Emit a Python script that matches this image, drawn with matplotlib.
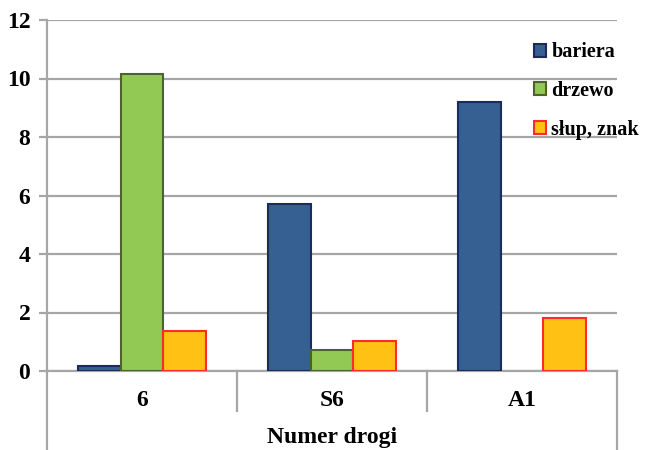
import matplotlib.pyplot as plt
import numpy as np

roads = ["6", "S6", "A1"]
series = ["bariera", "drzewo", "słup, znak"]
bariera = [0.17, 5.72, 9.2]
drzewo = [10.15, 0.72, 0.0]
slup_znak = [1.37, 1.03, 1.81]

faces = ["#365f92", "#92c955", "#ffc114"]
edges = ["#1f2a5c", "#4f6228", "#ff2b2b"]
grid_c = "#a6a6a6"

plt.rcParams["font.family"] = "Liberation Serif"
plt.rcParams["font.weight"] = "bold"

fig = plt.figure(figsize=(6.47, 4.5), dpi=100)
ax = fig.add_axes([47 / 647, 79 / 450, 570 / 647, 351 / 450])

x = np.arange(len(roads))
w = 0.226
for i, vals in enumerate([bariera, drzewo, slup_znak]):
    vals = np.array(vals)
    keep = vals > 0
    ax.bar(x[keep] + (i - 1) * w, vals[keep], w, color=faces[i],
           edgecolor=edges[i], linewidth=1.5, label=series[i], zorder=3)

ax.set_xlim(-0.5, 2.5)
ax.set_ylim(0, 12)
ax.set_yticks(range(0, 13, 2))
ax.yaxis.grid(True, color=grid_c, linewidth=1.6, zorder=0)
ax.tick_params(axis="y", length=6, width=1.6, color=grid_c, labelsize=17, pad=6)
ax.tick_params(axis="x", length=0)
ax.set_xticks([])
for s in ["top", "right", "bottom"]:
    ax.spines[s].set_visible(False)
ax.spines["left"].set_color(grid_c)
ax.spines["left"].set_linewidth(1.6)

# category axis drawn below the plot area
kw = dict(color=grid_c, linewidth=1.6, clip_on=False, transform=ax.transAxes)
ax.plot([0, 1], [0, 0], **kw)
for b in [1 / 3, 2 / 3]:
    ax.plot([b, b], [0, -40 / 351], **kw)
for b in [0, 1]:
    ax.plot([b, b], [0, -80 / 351], **kw)
for xi, r in zip(x, roads):
    ax.text(xi, -29 / 351 * 12, r, ha="center", va="center", fontsize=17,
            fontweight="bold", clip_on=False)
ax.text(0.5, -66 / 351, "Numer drogi", transform=ax.transAxes, ha="center",
        va="center", fontsize=17, fontweight="bold")

leg = ax.legend(loc="upper left", bbox_to_anchor=(0.855, 0.936), frameon=False,
                fontsize=14.5, handlelength=0.6, handleheight=0.6,
                handletextpad=0.25, labelspacing=0.92, borderpad=0,
                borderaxespad=0)

fig.savefig("out.png", dpi=100)
